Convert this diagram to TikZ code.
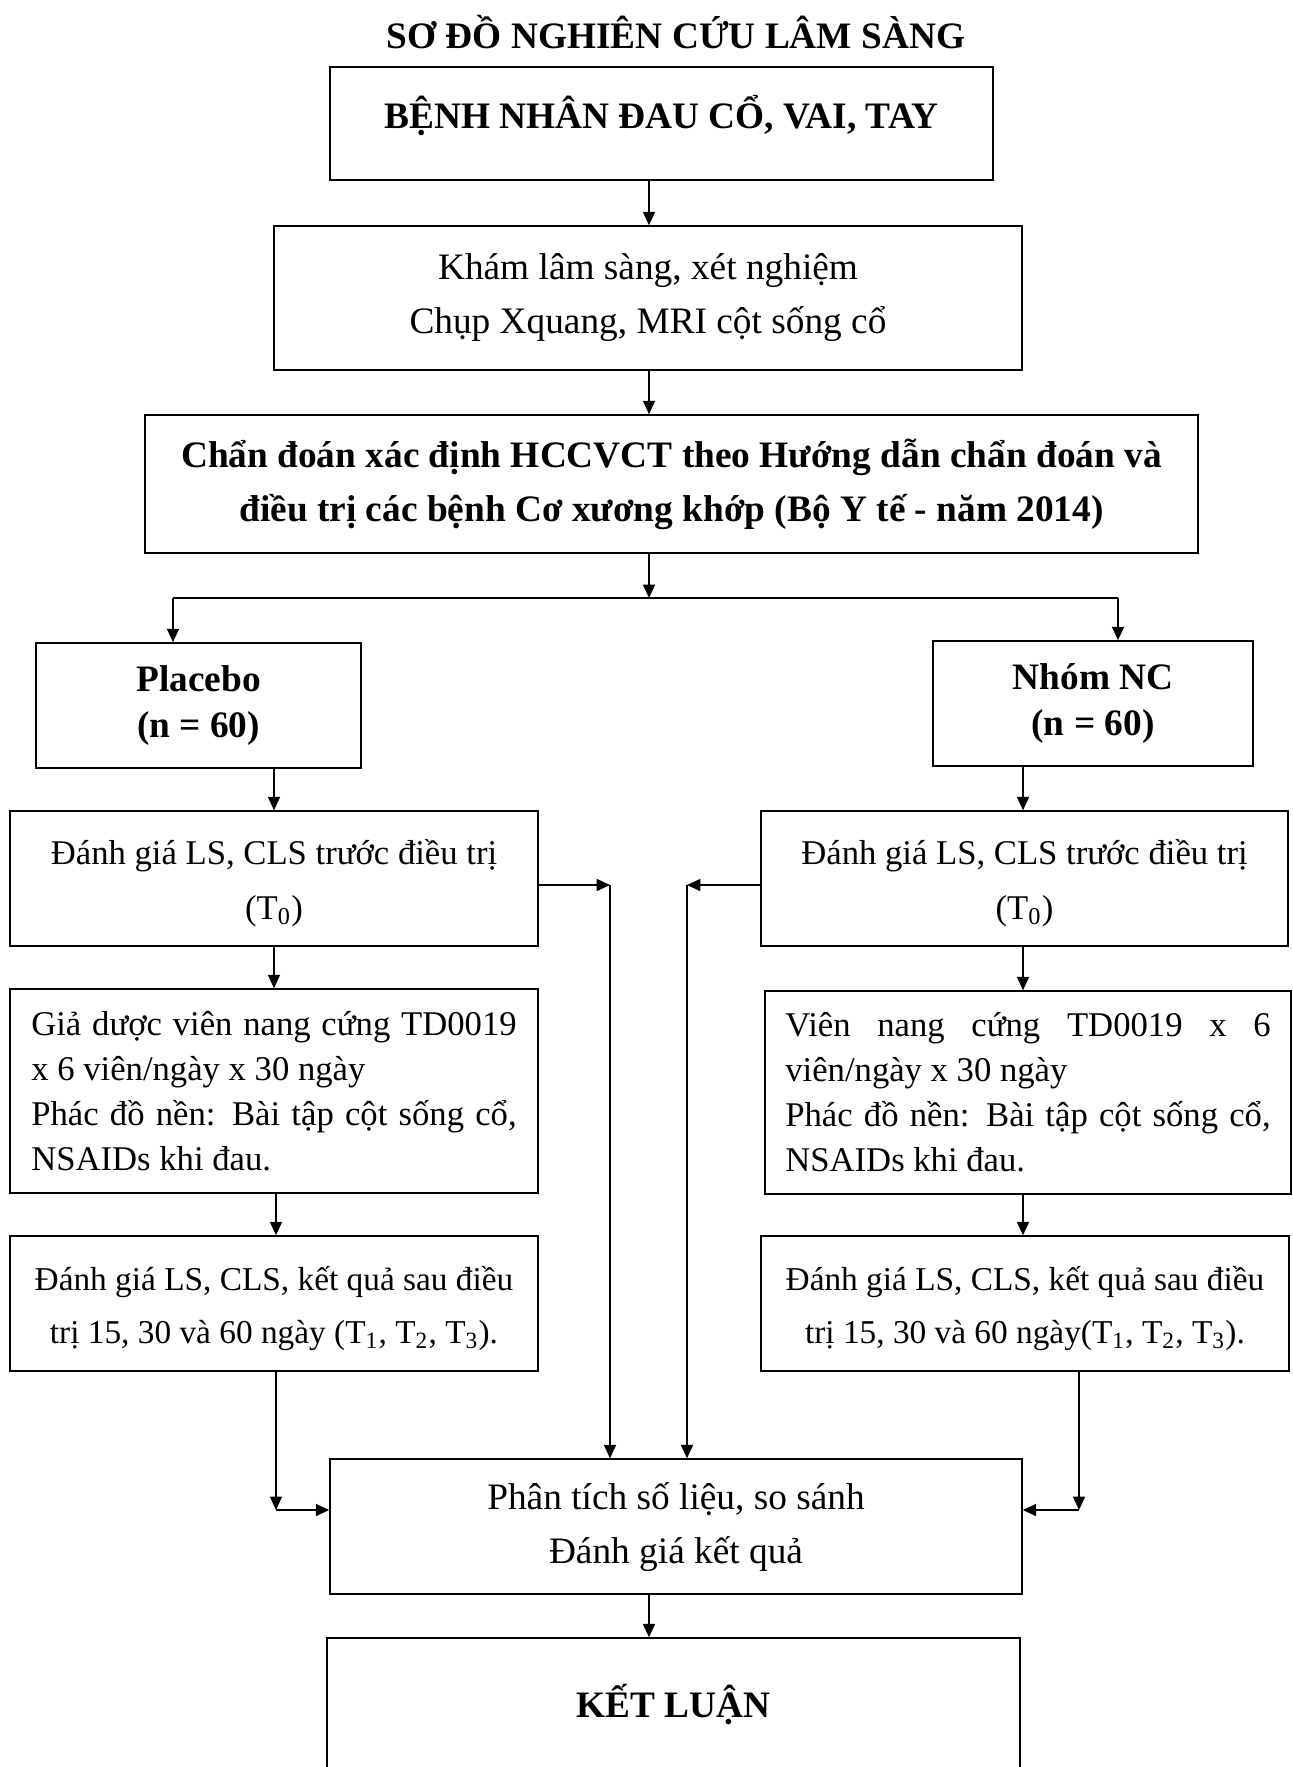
\documentclass[tikz,border=0pt]{standalone}
\usepackage{fontspec}
\setmainfont{Liberation Serif}
\usepackage{tikz}
\usetikzlibrary{arrows.meta, positioning}
\tolerance=10000
\hyphenpenalty=10000
\newcommand{\dongtren}{\rule{0pt}{13pt}}

\begin{document}
\begin{tikzpicture}[
x=0.375pt, y=-0.375pt,
>={Triangle[length=5pt, width=4.5pt]},
box/.style={rectangle, draw=black, semithick, align=center, inner sep=0pt, font=\fontsize{14pt}{20.25pt}\selectfont},
boxb/.style={box, font=\fontsize{14pt}{20.25pt}\selectfont\bfseries},
nhom/.style={box, font=\fontsize{14pt}{16.9pt}\selectfont\bfseries},
danhgia/.style={box, font=\fontsize{13pt}{20.6pt}\selectfont},
ketqua/.style={box, font=\fontsize{12.5pt}{19.9pt}\selectfont},
thuoc/.style={box, align=justify, text width=182pt, font=\fontsize{13pt}{16.9pt}\selectfont}
]
\useasboundingbox (0,0) rectangle (1293,1767);

% Title
\node[font=\fontsize{14pt}{17pt}\selectfont\bfseries] (tieude) at (676,32) {SƠ ĐỒ NGHIÊN CỨU LÂM SÀNG};

% Main column
\node[boxb, minimum width=248.6pt, minimum height=42.4pt, text height=9pt, text depth=5pt] (benhnhan) at (661.5,123.5) {BỆNH NHÂN ĐAU CỔ, VAI, TAY};
\node[box, minimum width=280.5pt, minimum height=54pt] (kham) at (648,298) {Khám lâm sàng, xét nghiệm\\ Chụp Xquang, MRI cột sống cổ};
\node[boxb, minimum width=394.9pt, minimum height=51.75pt] (chandoan) at (671.5,484) {Chẩn đoán xác định HCCVCT theo Hướng dẫn chẩn đoán và\\ điều trị các bệnh Cơ xương khớp (Bộ Y tế - năm 2014)};

% Groups
\node[nhom, minimum width=121.9pt, minimum height=46.9pt] (placebo) at (198.5,705.5) {Placebo\\ (n = 60)};
\node[nhom, minimum width=120pt, minimum height=46.9pt] (nhomnc) at (1093,703.5) {Nhóm NC\\ (n = 60)};

% Before treatment
\node[danhgia, minimum width=198pt, minimum height=50.6pt] (danhgiaA) at (274,878.5) {\dongtren Đánh giá LS, CLS trước điều trị\\ (T\textsubscript{0})};
\node[danhgia, minimum width=197.6pt, minimum height=50.6pt] (danhgiaB) at (1024.5,878.5) {\dongtren Đánh giá LS, CLS trước điều trị\\ (T\textsubscript{0})};

% Treatment
\node[thuoc, minimum width=198pt, minimum height=76.5pt] (thuocA) at (274,1091) {Giả dược viên nang cứng TD0019\linebreak x 6 viên/ngày x 30 ngày\\ Phác đồ nền: Bài tập cột sống cổ,\linebreak NSAIDs khi đau.};
\node[thuoc, minimum width=197.25pt, minimum height=76.1pt] (thuocB) at (1028,1092.5) {Viên nang cứng TD0019 x 6\linebreak viên/ngày x 30 ngày\\ Phác đồ nền: Bài tập cột sống cổ,\linebreak NSAIDs khi đau.};

% After treatment
\node[ketqua, minimum width=198pt, minimum height=50.6pt] (ketquaA) at (274,1303.5) {\dongtren Đánh giá LS, CLS, kết quả sau điều\\ trị 15, 30 và 60 ngày (T\textsubscript{1}, T\textsubscript{2}, T\textsubscript{3}).};
\node[ketqua, minimum width=198pt, minimum height=50.6pt] (ketquaB) at (1025,1303.5) {\dongtren Đánh giá LS, CLS, kết quả sau điều\\ trị 15, 30 và 60 ngày(T\textsubscript{1}, T\textsubscript{2}, T\textsubscript{3}).};

% Analysis and conclusion
\node[box, minimum width=259.5pt, minimum height=50.6pt] (phantich) at (676,1526.5) {Phân tích số liệu, so sánh\\ Đánh giá kết quả};
\node[boxb, minimum width=259.9pt, minimum height=50.25pt] (ketluan) at (673.5,1705) {KẾT LUẬN};

% Junctions
\coordinate (tach) at (649,598);
\coordinate (reA) at (173,598);
\coordinate (reB) at (1118,598);
\coordinate (nhanhA) at (610,885);
\coordinate (nhanhB) at (687,885);
\coordinate (gocA) at (276,1510);
\coordinate (gocB) at (1079,1510);
\coordinate (cotB) at (1023,0);

% Arrows
\draw[->, semithick] (benhnhan.south -| tach) -- (kham.north -| tach);
\draw[->, semithick] (kham.south -| tach) -- (chandoan.north -| tach);
\draw[->, semithick] (chandoan.south -| tach) -- (tach);
\draw[semithick] (reA) -- (reB);
\draw[->, semithick] (reA) -- (reA |- placebo.north);
\draw[->, semithick] (reB) -- (reB |- nhomnc.north);
\draw[->, semithick] (placebo.south -| danhgiaA.north) -- (danhgiaA.north);
\draw[->, semithick] (nhomnc.south -| cotB) -- (danhgiaB.north -| cotB);
\draw[->, semithick] (danhgiaA.south) -- (thuocA.north -| danhgiaA.south);
\draw[->, semithick] (danhgiaB.south -| cotB) -- (thuocB.north -| cotB);
\draw[->, semithick] (thuocA.south -| gocA) -- (ketquaA.north -| gocA);
\draw[->, semithick] (thuocB.south -| cotB) -- (ketquaB.north -| cotB);

\draw[->, semithick] (danhgiaA.east |- nhanhA) -- (nhanhA);
\draw[->, semithick] (nhanhA) -- (nhanhA |- phantich.north);
\draw[->, semithick] (danhgiaB.west |- nhanhB) -- (nhanhB);
\draw[->, semithick] (nhanhB) -- (nhanhB |- phantich.north);

\draw[->, semithick] (ketquaA.south -| gocA) -- (gocA);
\draw[->, semithick] (gocA) -- (gocA -| phantich.west);
\draw[->, semithick] (ketquaB.south -| gocB) -- (gocB);
\draw[->, semithick] (gocB) -- (gocB -| phantich.east);

\draw[->, semithick] (phantich.south -| tach) -- (ketluan.north -| tach);

\end{tikzpicture}
\end{document}
